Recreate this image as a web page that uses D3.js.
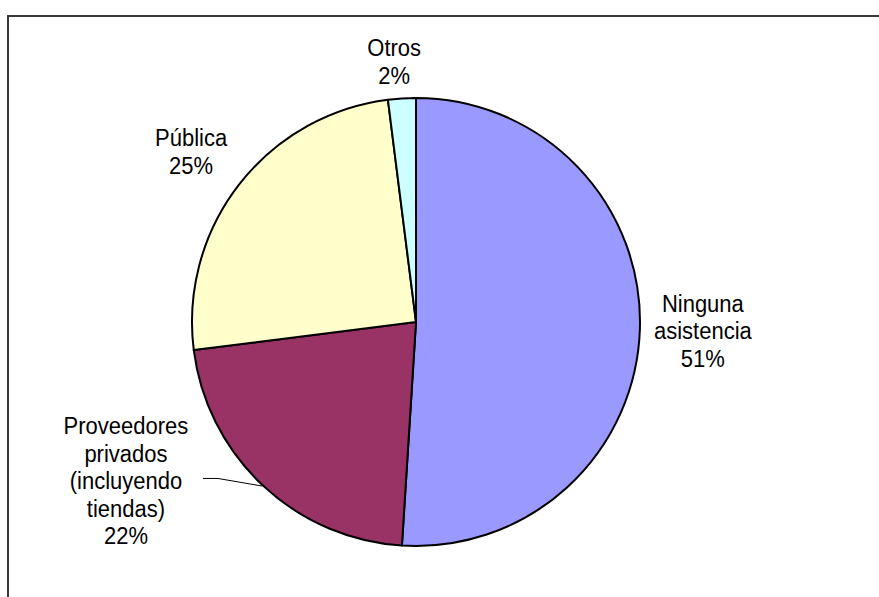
<!DOCTYPE html>
<html>
<head>
<meta charset="utf-8">
<script src="https://cdn.jsdelivr.net/npm/d3@7"></script>
<style>
	html, body { margin: 0; padding: 0; background: #fff; }
	svg { display: block; }
	text { font-family: "Liberation Sans", Arial, sans-serif; fill: #000; }
</style>
</head>
<body>
<div id="chart"></div>
<script>
// Slices, clockwise from 12 o'clock
var categories = ['Ninguna asistencia', 'Proveedores privados (incluyendo tiendas)', 'Pública', 'Otros'];
var values = [51, 22, 25, 2];
var colors = ['#9999FF', '#993366', '#FFFFCC', '#CCFFFF'];
// Label lines as Excel wrapped them
var labelLines = [
	['Ninguna', 'asistencia', '51%'],
	['Proveedores', 'privados', '(incluyendo', 'tiendas)', '22%'],
	['Pública', '25%'],
	['Otros', '2%']
];

var width = 879, height = 597;
var cx = 416, cy = 322, radius = 224;
var lineGap = 27.5;
// Label block centres relative to the pie centre (polar: radius, angle offset in degrees)
var labelPolar = [[287, 0], [331, 18], [282, -0.7], [261, -1.2]];

var svg = d3.select('#chart').append('svg')
	.attr('width', width).attr('height', height);

// Chart area frame (only top and left edge show)
svg.append('rect')
	.attr('x', 8).attr('y', 16).attr('width', width).attr('height', height)
	.style('fill', 'none').style('stroke', '#3a3a3a').style('stroke-width', 2);

var pie = d3.pie().sort(null).value(d => d);
var arcs = pie(values);
var arc = d3.arc().innerRadius(0).outerRadius(radius);

var g = svg.append('g').attr('transform', 'translate(' + cx + ',' + cy + ')');

g.selectAll('path').data(arcs).enter().append('path')
	.attr('d', arc)
	.style('fill', (d, i) => colors[i])
	.style('stroke', '#000').style('stroke-width', 2).style('stroke-linejoin', 'round');

// Polar helper (angle clockwise from top)
function polar(r, a) {
	return [r * Math.sin(a), -r * Math.cos(a)];
}

// Labels
arcs.forEach(function(d, i) {
	var mid = (d.startAngle + d.endAngle) / 2 + labelPolar[i][1] * Math.PI / 180;
	var p = polar(labelPolar[i][0], mid);
	var lines = labelLines[i];
	var top = p[1] - (lines.length - 1) * lineGap / 2;
	var t = g.append('g').attr('transform', 'translate(' + p[0] + ',' + top + ')');
	lines.forEach(function(s, k) {
		t.append('text')
			.attr('text-anchor', 'middle')
			.attr('transform', 'translate(0,' + (k * lineGap + 8) + ') scale(1,1.12)')
			.style('font-size', '22px')
			.text(s);
	});
});

// Leader line for the private providers label
var lead = arcs[1];
var leadMid = (lead.startAngle + lead.endAngle) / 2;
var edge = polar(radius + 1, leadMid);
var lp = polar(labelPolar[1][0], leadMid + labelPolar[1][1] * Math.PI / 180);
var ly = lp[1] - 3;
var lx = lp[0] + 77;
g.append('path')
	.attr('d', d3.line()([[lx, ly], [lx + 15, ly], edge]))
	.style('fill', 'none').style('stroke', '#000').style('stroke-width', 1);
</script>
</body>
</html>
